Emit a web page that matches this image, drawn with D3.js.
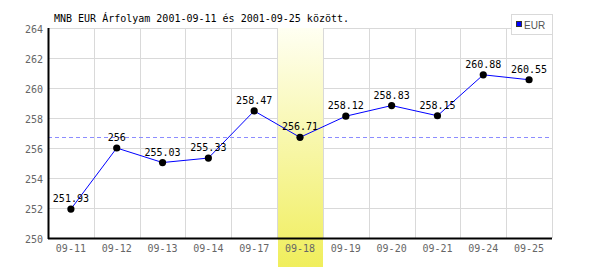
<!DOCTYPE html>
<html lang="hu">
<head>
  <meta charset="UTF-8">
  <title>MNB EUR Árfolyam</title>
  <script src="https://d3js.org/d3.v7.min.js"></script>
  <style>
    body { margin: 0; background: #fff; }
    svg text { font-family: "DejaVu Sans Mono", monospace; font-size: 10px; }
  </style>
</head>
<body>
  <svg id="chart" width="600" height="270"></svg>

  <script>
    const title = "MNB EUR Árfolyam 2001-09-11 és 2001-09-25 között.";
    const dates = ["09-11", "09-12", "09-13", "09-14", "09-17", "09-18", "09-19", "09-20", "09-21", "09-24", "09-25"];
    const rates = [251.93, 256, 255.03, 255.33, 258.47, 256.71, 258.12, 258.83, 258.15, 260.88, 260.55];
    const yTicks = [250, 252, 254, 256, 258, 260, 262, 264];
    const highlightDate = "09-18";
    const seriesName = "EUR";

    const svg = d3.select("#chart");
    const margin = { top: 28, right: 48, bottom: 32, left: 48 };
    const width = +svg.attr("width");
    const height = +svg.attr("height");

    const x = d3.scaleBand().domain(dates).range([margin.left, width - margin.right]).padding(0);
    const y = d3.scaleLinear().domain([250, 264]).range([height - margin.bottom, margin.top]);

    const defs = svg.append("defs");
    const grad = defs.append("linearGradient")
      .attr("id", "hl").attr("x1", 0).attr("y1", 0).attr("x2", 0).attr("y2", 1);
    grad.append("stop").attr("offset", "0%").attr("stop-color", "#fffff2");
    grad.append("stop").attr("offset", "100%").attr("stop-color", "#f0ee5c");

    // grid
    const grid = svg.append("g").attr("stroke", "#d9d9d9").attr("stroke-width", 1);
    grid.selectAll(".hg").data(yTicks).enter().append("line")
      .attr("x1", margin.left).attr("x2", width - margin.right)
      .attr("y1", d => Math.round(y(d)) + 0.5).attr("y2", d => Math.round(y(d)) + 0.5);
    grid.selectAll(".vg").data(dates.concat(["end"])).enter().append("line")
      .attr("x1", (d, i) => Math.round(margin.left + i * x.bandwidth()) + 0.5)
      .attr("x2", (d, i) => Math.round(margin.left + i * x.bandwidth()) + 0.5)
      .attr("y1", margin.top).attr("y2", height - margin.bottom);

    // dashed reference line at highlighted day's value
    const hlValue = rates[dates.indexOf(highlightDate)];
    svg.append("line")
      .attr("x1", margin.left).attr("x2", width - margin.right)
      .attr("y1", Math.round(y(hlValue)) + 0.5).attr("y2", Math.round(y(hlValue)) + 0.5)
      .attr("stroke", "#8c8cff").attr("stroke-dasharray", "4,3");

    // highlight band
    svg.append("rect")
      .attr("x", Math.round(x(highlightDate)) + 1)
      .attr("y", margin.top)
      .attr("width", Math.round(x.bandwidth()) - 1)
      .attr("height", 267 - margin.top)
      .attr("fill", "url(#hl)");

    // axes lines
    svg.append("line")
      .attr("x1", margin.left + 0.5).attr("x2", margin.left + 0.5)
      .attr("y1", margin.top).attr("y2", height - margin.bottom + 1)
      .attr("stroke", "#000").attr("stroke-width", 2);
    svg.append("line")
      .attr("x1", margin.left).attr("x2", width - margin.right)
      .attr("y1", height - margin.bottom + 0.5).attr("y2", height - margin.bottom + 0.5)
      .attr("stroke", "#000").attr("stroke-width", 2);

    // tick labels
    svg.selectAll(".yl").data(yTicks).enter().append("text")
      .attr("x", 43).attr("y", d => y(d) + 5)
      .attr("text-anchor", "end").attr("fill", "#666")
      .text(d => d);
    svg.selectAll(".xl").data(dates).enter().append("text")
      .attr("x", d => x(d) + x.bandwidth() / 2).attr("y", 252)
      .attr("text-anchor", "middle").attr("fill", "#666")
      .text(d => d);

    // data line
    const cx = d => x(d) + x.bandwidth() / 2;
    svg.append("path")
      .attr("d", d3.line()(dates.map((d, i) => [cx(d), y(rates[i])])))
      .attr("fill", "none").attr("stroke", "#0000ff").attr("stroke-width", 1);

    svg.selectAll(".dot").data(dates).enter().append("circle")
      .attr("cx", cx).attr("cy", (d, i) => y(rates[i])).attr("r", 3.6)
      .attr("fill", "#000");

    svg.selectAll(".vl").data(dates).enter().append("text")
      .attr("x", cx).attr("y", (d, i) => y(rates[i]) - 7)
      .attr("text-anchor", "middle").attr("fill", "#000")
      .text((d, i) => rates[i]);

    // title
    svg.append("text").attr("x", 54).attr("y", 22).attr("fill", "#000").text(title);

    // legend
    const lg = svg.append("g");
    lg.append("rect").attr("x", 511.5).attr("y", 14.5).attr("width", 41).attr("height", 20)
      .attr("fill", "#fff").attr("stroke", "#d9d9d9");
    lg.append("rect").attr("x", 516.5).attr("y", 21.5).attr("width", 5).attr("height", 5)
      .attr("fill", "#0000ff").attr("stroke", "#333");
    lg.append("text").attr("x", 524).attr("y", 28.5).attr("fill", "#555")
      .style("font-family", "'Liberation Sans', sans-serif").style("font-size", "10px")
      .text(seriesName);
  </script>
</body>
</html>
